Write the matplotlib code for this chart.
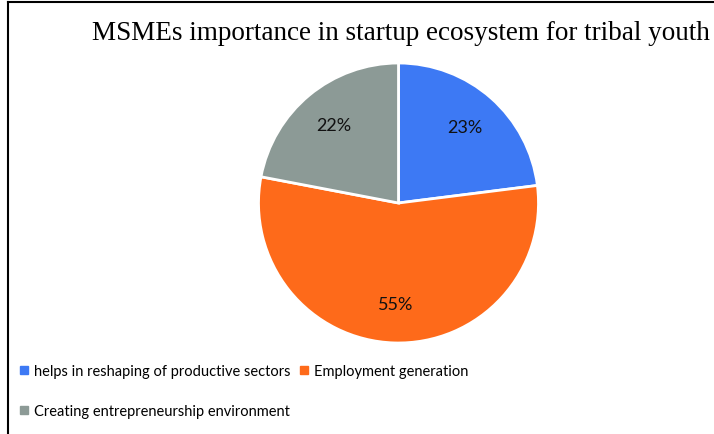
import matplotlib.pyplot as plt
from matplotlib.lines import Line2D

labels = ['helps in reshaping of productive sectors', 'Employment generation',
          'Creating entrepreneurship environment']
shares = [23, 55, 22]
colors = ['#3d79f4', '#fe6a1a', '#8c9a96']
title = 'MSMEs importance in startup ecosystem for tribal youth'

W, H = 714, 435
fig = plt.figure(figsize=(W / 100, H / 100), dpi=100)

# pie in a square axes, center ~(398, 204) px, radius ~140 px
r = 140
cx, cy = 398.5, 204
ax = fig.add_axes([(cx - r) / W, (H - cy - r) / H, 2 * r / W, 2 * r / H])
wedges, texts, autotexts = ax.pie(
    shares, colors=colors, startangle=90, counterclock=False,
    autopct='%d%%', pctdistance=0.72,
    wedgeprops=dict(edgecolor='white', linewidth=2),
    textprops=dict(fontsize=13, family='Lato', color='#111111'))
ax.set_xlim(-1, 1)
ax.set_ylim(-1, 1)
ax.set_aspect('equal')
ax.axis('off')

fig.text(401 / W, 1 - 33 / H, title, ha='center', va='center',
         family='Liberation Serif', fontsize=19.5)

# legend: two rows, blue + orange on first, gray on second
handles = [Line2D([], [], marker='s', linestyle='', color=c, markersize=5.5)
           for c in colors]
order = [0, 2, 1]
fig.legend([handles[i] for i in order], [labels[i] for i in order],
           ncol=2, loc='upper left', bbox_to_anchor=(14 / W, 1 - 359 / H),
           frameon=False, prop=dict(family='Lato', size=10.5),
           handlelength=0.6, handletextpad=0.4, columnspacing=0.6,
           labelspacing=1.8, borderaxespad=0)

# frame lines on the left and top
fig.add_artist(Line2D([8 / W, 8 / W], [0, 1 - 3 / H], color='black', lw=1.5,
                      transform=fig.transFigure))
fig.add_artist(Line2D([8 / W, 1], [1 - 3 / H, 1 - 3 / H], color='black', lw=1.5,
                      transform=fig.transFigure))

fig.savefig('out.png', dpi=100)
